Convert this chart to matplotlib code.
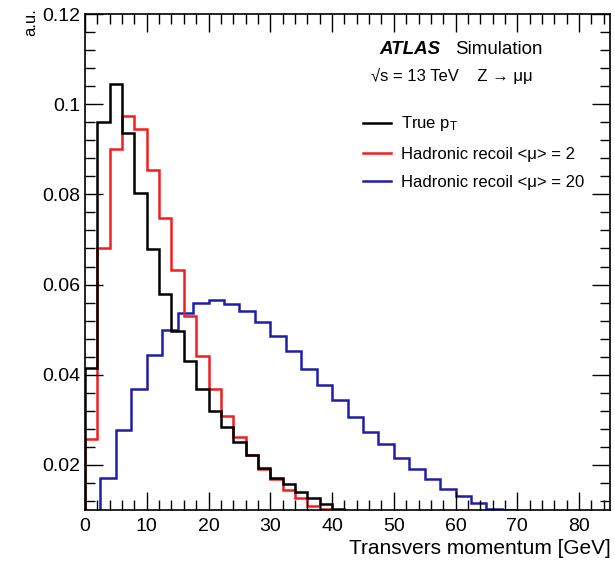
import numpy as np
import matplotlib
matplotlib.use("Agg")
import matplotlib.pyplot as plt
from matplotlib.ticker import MultipleLocator
from matplotlib.lines import Line2D

plt.rcParams['font.family'] = ['Liberation Sans', 'DejaVu Sans']
plt.rcParams['mathtext.fontset'] = 'custom'
plt.rcParams['mathtext.rm'] = 'Liberation Sans'
plt.rcParams['mathtext.it'] = 'Liberation Sans:italic'

# 2 GeV bins for true pT and <mu>=2 recoil
bin_width_fine = 2.0
true_pt = [0.0415, 0.0960, 0.1044, 0.0936, 0.0802, 0.0679, 0.0578, 0.0497, 0.0430,
           0.0368, 0.0320, 0.0283, 0.0250, 0.0222, 0.0193, 0.0172, 0.0157, 0.0140,
           0.0126, 0.0113, 0.0102]
recoil_mu2 = [0.0258, 0.0680, 0.0901, 0.0973, 0.0945, 0.0855, 0.0748, 0.0633, 0.0530,
              0.0441, 0.0369, 0.0309, 0.0261, 0.0221, 0.0190, 0.0168, 0.0145, 0.0126,
              0.0109, 0.0102, 0.0101]
# 2.5 GeV bins for <mu>=20 recoil
bin_width_coarse = 2.5
recoil_mu20 = [0.0060, 0.0172, 0.0277, 0.0369, 0.0444, 0.0499, 0.0537, 0.0560, 0.0565,
               0.0557, 0.0541, 0.0516, 0.0486, 0.0452, 0.0413, 0.0378, 0.0344, 0.0307,
               0.0273, 0.0246, 0.0216, 0.0190, 0.0168, 0.0146, 0.0130, 0.0115, 0.0102,
               0.0099]

labels = ["True p$_\\mathrm{T}$", "Hadronic recoil <\u03bc> = 2", "Hadronic recoil <\u03bc> = 20"]
colors = ["black", "#f01e1e", "#1e1ea8"]
ytick_labels = ["0.02", "0.04", "0.06", "0.08", "0.1", "0.12"]

edges_fine = np.arange(len(true_pt) + 1) * bin_width_fine
edges_coarse = np.arange(len(recoil_mu20) + 1) * bin_width_coarse

fig = plt.figure(figsize=(6.15, 5.61), dpi=100)
ax = fig.add_axes([0.1382, 0.0909, 0.8537, 0.8841])

ax.stairs(recoil_mu20, edges_coarse, color=colors[2], lw=1.8, baseline=0)
ax.stairs(recoil_mu2, edges_fine, color=colors[1], lw=1.8, baseline=0)
ax.stairs(true_pt, edges_fine, color=colors[0], lw=1.8, baseline=0)

ax.set_xlim(0, 85)
ax.set_ylim(0.01, 0.12)
ax.xaxis.set_major_locator(MultipleLocator(10))
ax.xaxis.set_minor_locator(MultipleLocator(2))
ax.yaxis.set_minor_locator(MultipleLocator(0.004))
ax.set_yticks([0.02, 0.04, 0.06, 0.08, 0.1, 0.12])
ax.set_yticklabels(ytick_labels)
ax.tick_params(which='both', direction='in', top=True, right=True, width=1.0, labelsize=14)
ax.tick_params(which='major', length=13)
ax.tick_params(which='minor', length=7)
ax.tick_params(axis='x', pad=6)
for s in ax.spines.values():
    s.set_linewidth(1.2)

fig.text(611 / 615, 1 - 549 / 561, "Transvers momentum [GeV]", fontsize=15,
         ha='right', va='center')
fig.text(31 / 615, 1 - 8 / 561, "a.u.", fontsize=12, rotation=90,
         ha='center', va='top')

ax.text(0.56, 0.92, "ATLAS", transform=ax.transAxes, fontsize=13.5,
        fontweight='bold', fontstyle='italic')
ax.text(0.705, 0.92, "Simulation", transform=ax.transAxes, fontsize=13.5)
ax.text(0.545, 0.864, "\u221as = 13 TeV    Z \u2192 \u03bc\u03bc", transform=ax.transAxes, fontsize=12)

handles = [Line2D([], [], color=c, lw=1.8) for c in colors]
ax.legend(handles, labels, loc='upper left', bbox_to_anchor=(0.5, 0.828),
          frameon=False, fontsize=12, handlelength=1.7, handletextpad=0.6,
          labelspacing=0.8)

fig.savefig("out.png", dpi=100)
